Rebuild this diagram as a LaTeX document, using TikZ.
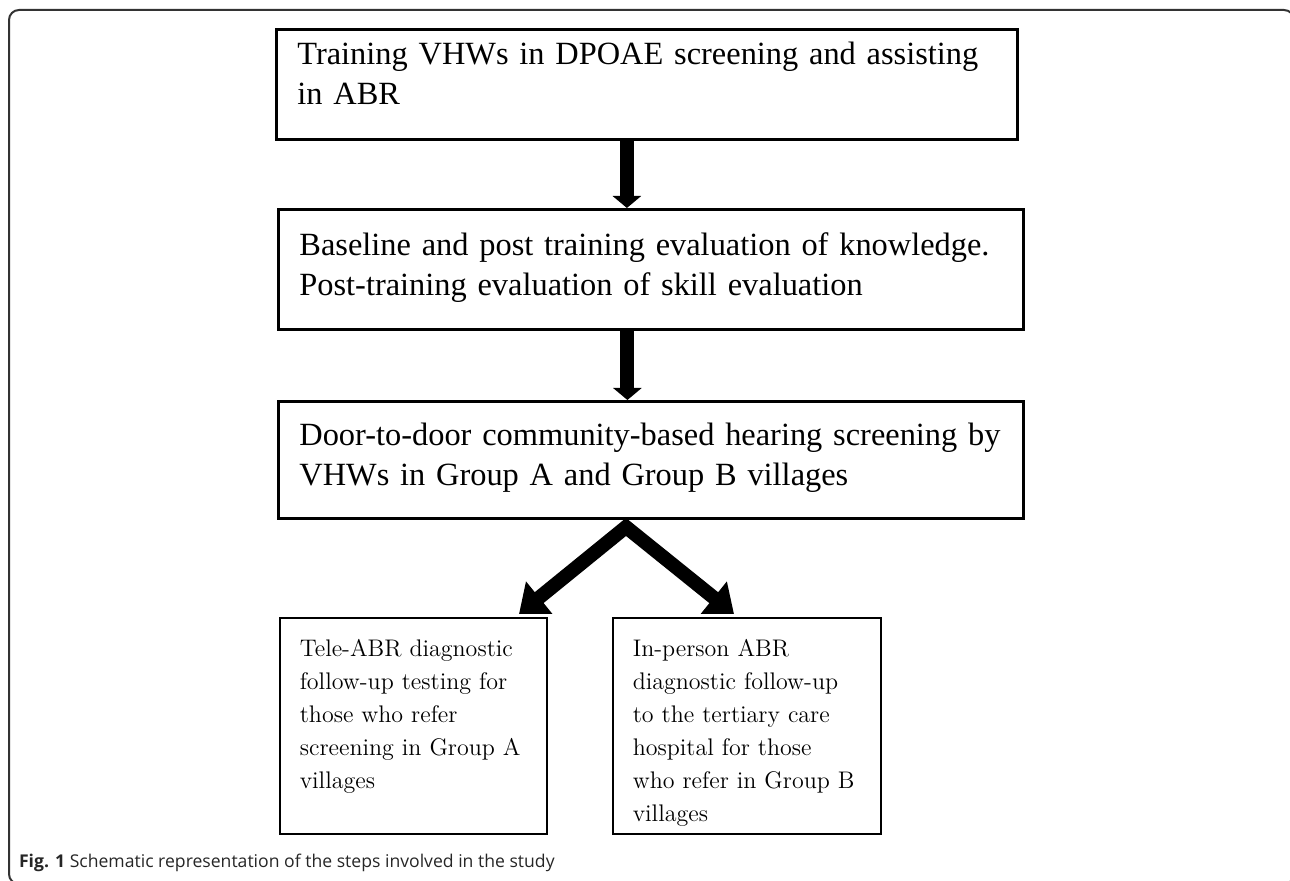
\documentclass[tikz,border=0pt]{standalone}
\usepackage{fontspec}
\usepackage{tikz}
\usetikzlibrary{arrows.meta,positioning}
\newfontfamily\boxfont{Liberation Serif}
\newfontfamily\capfont{Open Sans}

\begin{document}
\begin{tikzpicture}[x=0.5pt,y=-0.5pt,
  stepbox/.style={draw,line width=1.4pt,anchor=north west,align=left,inner xsep=10.5pt,inner ysep=0pt,
    font=\boxfont\fontsize{16.2}{20}\selectfont},
  subbox/.style={draw,line width=0.8pt,anchor=north west,align=left,inner xsep=10pt,inner ysep=0pt,
    text height=19.5pt,text depth=88.5pt,font=\fontsize{12}{16.5}\selectfont},
  flow/.style={line width=7pt,-{Triangle[width=14pt,length=6pt]}},
  fork/.style={line width=7pt,line join=miter,{Triangle[width=20pt,length=13pt]}-{Triangle[width=20pt,length=13pt]}}]
\useasboundingbox (0,0) rectangle (1290,881);
\draw[line width=1pt,rounded corners=5pt,black!80] (9,10) rectangle (1294,884);

\node[stepbox,text width=349.5pt,text height=17.5pt,text depth=37.5pt] (training) at (275,28)
  {Training VHWs in DPOAE screening and assisting\\in ABR};
\node[stepbox,text width=351.5pt,text height=23pt,text depth=37pt] (evaluation) at (277,208)
  {Baseline and post training evaluation of knowledge.\\Post-training evaluation of skill evaluation};
\node[stepbox,text width=351.5pt,text height=22pt,text depth=36.5pt] (screening) at (277,400)
  {Door-to-door community-based hearing screening by\\VHWs in Group A and Group B villages};
\node[subbox,text width=113.5pt] (teleabr) at (279,617)
  {Tele-ABR diagnostic\\follow-up testing for\\those who refer\\screening in Group A\\villages};
\node[subbox,text width=114pt] (inperson) at (612,617)
  {In-person ABR\\diagnostic follow-up\\to the tertiary care\\hospital for those\\who refer in Group B\\villages};

\draw[flow] ([xshift=-10pt]training.south) -- ([xshift=-10pt]training.south |- evaluation.north);
\draw[flow] ([xshift=-11.75pt]evaluation.south) -- ([xshift=-11.75pt]screening.north);
\coordinate (split) at (626,527);
\coordinate (leftend) at (519,614);
\coordinate (rightend) at (734,614);
\draw[fork] (leftend) -- (split) -- (rightend);

\node[anchor=base west,font=\capfont\fontsize{8.8}{10}\selectfont,text=black!85] (caption) at (12,867)
  {\textbf{Fig. 1} Schematic representation of the steps involved in the study};
\end{tikzpicture}
\end{document}
